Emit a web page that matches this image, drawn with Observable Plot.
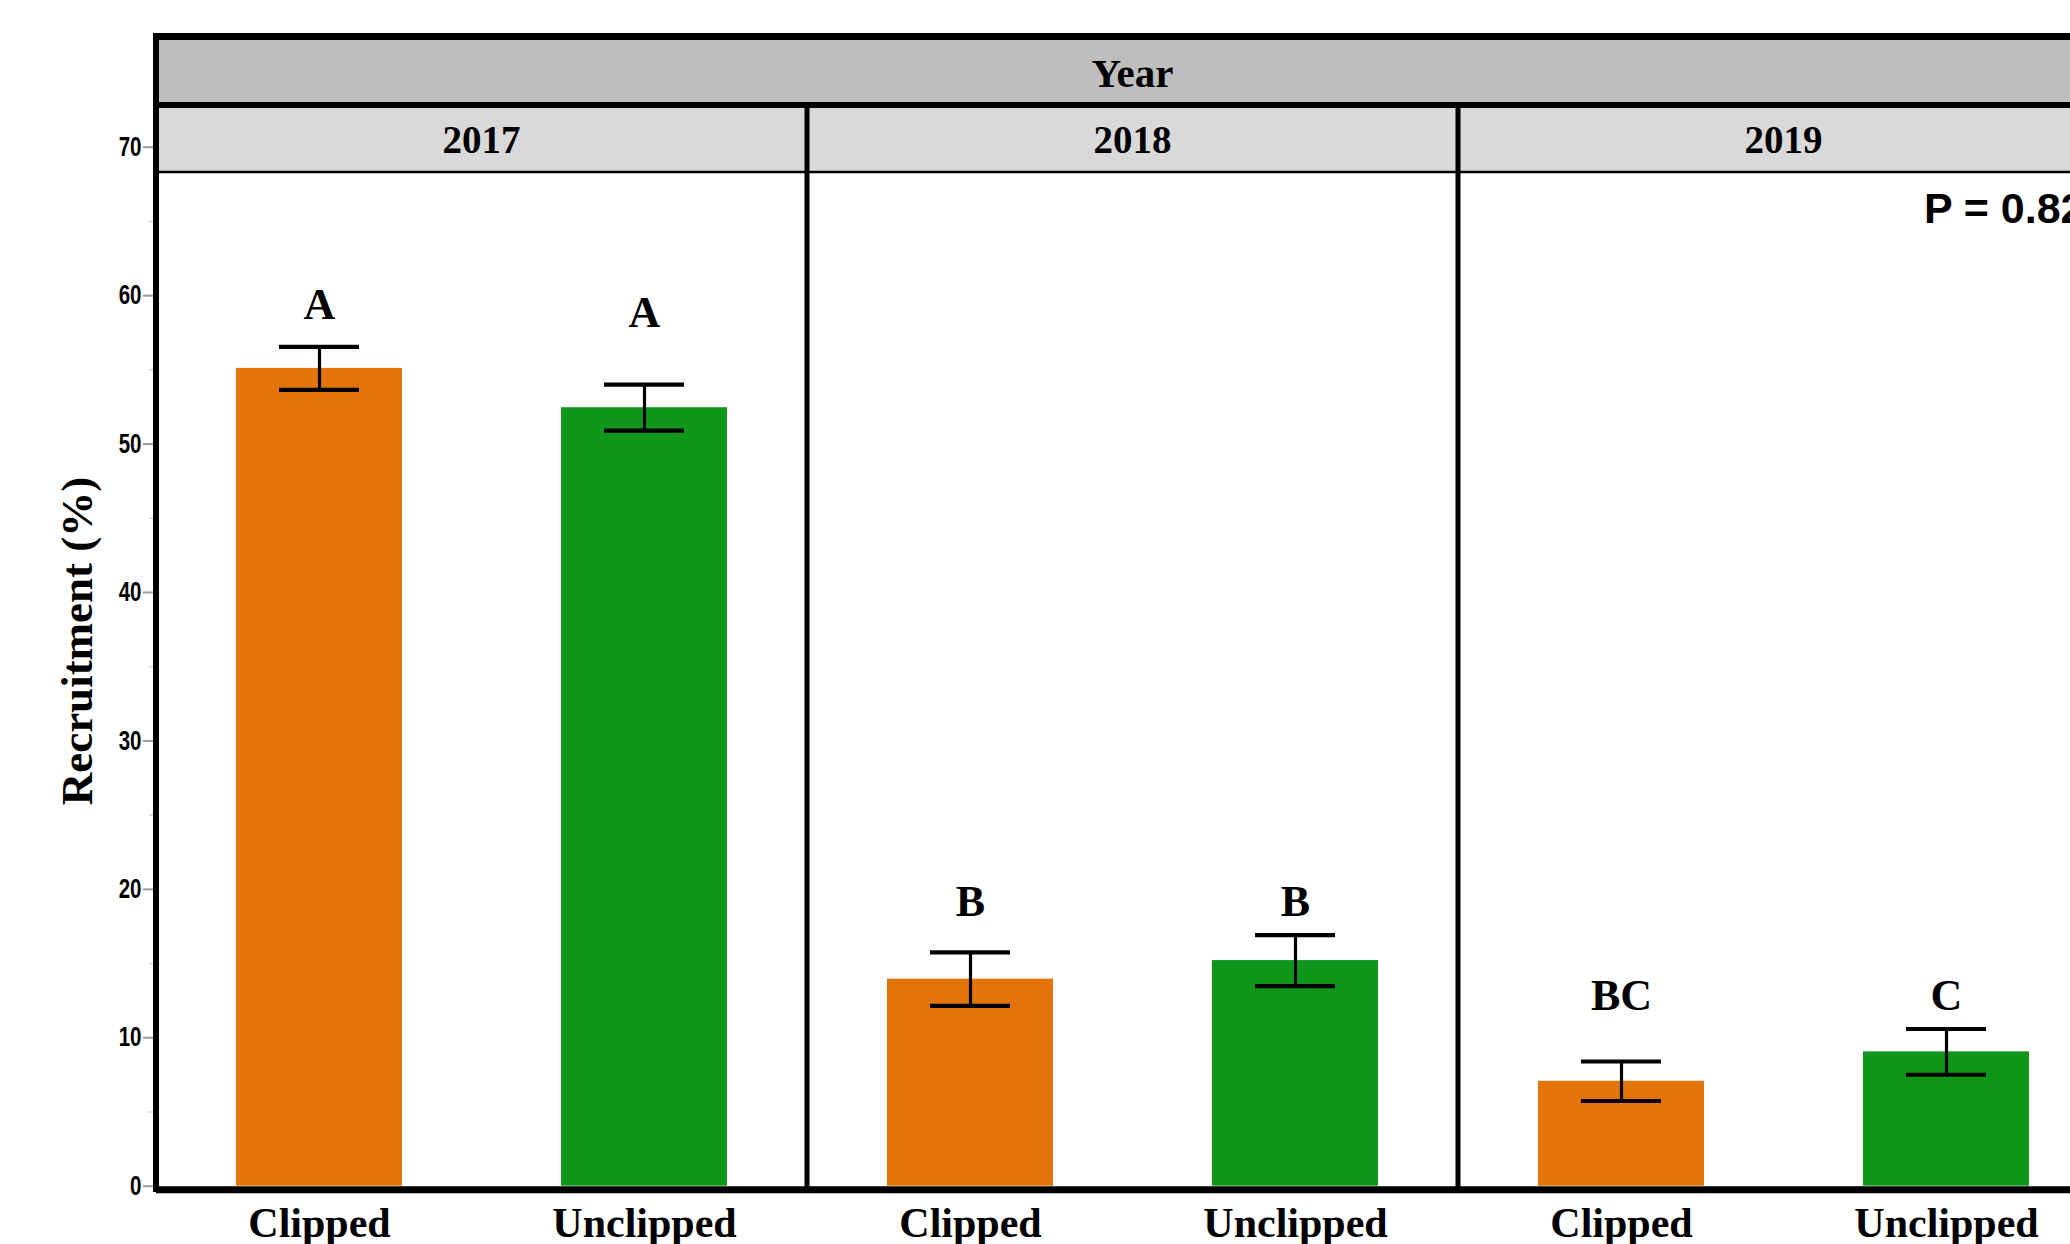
<!DOCTYPE html>
<html>
<head>
<meta charset="utf-8">
<script src="https://cdn.jsdelivr.net/npm/d3@7"></script>
<script src="https://cdn.jsdelivr.net/npm/@observablehq/plot@0.6"></script>
<style>
  html, body { margin: 0; padding: 0; background: #fff; overflow: hidden; }
  #chart { width: 2070px; height: 1244px; overflow: hidden; }
  #chart svg { max-width: none !important; }
</style>
</head>
<body>
<div id="chart"></div>
<script>
// Seedling recruitment (%) by year and clipping treatment, mean ± SE
const years = ["2017", "2018", "2019"];
const treatments = ["Clipped", "Unclipped"];
const meanRecruitment = [55.1, 52.45, 13.95, 15.2, 7.07, 9.05];
const stdError = [1.45, 1.55, 1.8, 1.72, 1.33, 1.54];
const groupLetters = ["A", "A", "B", "B", "BC", "C"];
const letterAt = [58.4, 57.9, 18.2, 18.2, 11.9, 11.9];
const yTicks = [0, 10, 20, 30, 40, 50, 60, 70];
const yMinorTicks = [5, 15, 25, 35, 45, 55, 65];
const pLabel = "P = 0.82";
const treatmentColors = ["#E3740A", "#11961C"];

const rows = [];
years.forEach((year, i) => treatments.forEach((treatment, j) => {
  const k = i * treatments.length + j;
  rows.push({
    year, treatment,
    mean: meanRecruitment[k],
    lo: meanRecruitment[k] - stdError[k],
    hi: meanRecruitment[k] + stdError[k],
    letter: groupLetters[k],
    letterAt: letterAt[k]
  });
}));

const serif = "'Liberation Serif', 'Times New Roman', Times, serif";
const sans = "'Liberation Sans', Arial, Helvetica, sans-serif";

const plot = Plot.plot({
  width: 2130,
  height: 1270,
  marginLeft: 156,
  marginRight: 21,
  marginTop: 173,
  marginBottom: 84.3,
  style: { background: "white", overflow: "visible", maxWidth: "none" },
  fx: { domain: years, padding: 0, axis: null, label: null },
  x: { domain: treatments, paddingInner: 0.488, paddingOuter: 0.244, label: null },
  y: { domain: [0, 68.23], label: null },
  color: { domain: treatments, range: treatmentColors },
  marks: [
    Plot.barY(rows, { fx: "year", x: "treatment", y: "mean", fill: "treatment" }),
    Plot.ruleX(rows, { fx: "year", x: "treatment", y1: "lo", y2: "hi", stroke: "black", strokeWidth: 3.2 }),
    Plot.tickY(rows, { fx: "year", x: "treatment", y: "hi", stroke: "black", strokeWidth: 4.2, insetLeft: 43, insetRight: 43 }),
    Plot.tickY(rows, { fx: "year", x: "treatment", y: "lo", stroke: "black", strokeWidth: 4.2, insetLeft: 43, insetRight: 43 }),
    Plot.text(rows, {
      fx: "year", x: "treatment", y: "letterAt", text: "letter",
      lineAnchor: "bottom", fontSize: 44, fontWeight: "bold", fontFamily: serif, fill: "black"
    }),
    Plot.text([{ year: years[2], label: pLabel }], {
      fx: "year", text: "label", frameAnchor: "top-right", textAnchor: "end",
      lineAnchor: "bottom", dy: 49, dx: -25, fontSize: 43, fontWeight: "bold", fontFamily: sans, fill: "black"
    }),
    Plot.ruleY([0], { stroke: "black", strokeWidth: 7, dy: 3.5 }),
    Plot.axisY(yMinorTicks, {
      anchor: "left", facetAnchor: "left", tickSize: 7, tickFormat: () => "",
      stroke: "#d4d4d4", strokeWidth: 1.5, label: null
    }),
    Plot.axisY(yTicks, {
      anchor: "left", facetAnchor: "left", tickSize: 13, tickPadding: 2,
      stroke: "#9a9a9a", strokeWidth: 2, fill: "black",
      fontSize: 27, fontWeight: "bold", fontFamily: sans, label: null
    }),
    Plot.axisX({
      anchor: "bottom", tickSize: 0, tickPadding: 21,
      fontSize: 42, fontWeight: "bold", fontFamily: serif, fill: "black", label: null
    })
  ]
});

// Strip headers, panel dividers and the y-axis title, placed from the facet scale
const svg = d3.select(plot);
svg.style("max-width", "none");

// narrow the y tick numerals (condensed bold face)
svg.selectAll('g[aria-label="y-axis tick label"] text').each(function () {
  const t = d3.select(this);
  const tr = t.attr("transform") || "";
  t.attr("transform", tr + " scale(0.76,1)");
});

const fx = plot.scale("fx");
const left = fx.apply(years[0]);
const right = fx.apply(years[years.length - 1]) + fx.bandwidth;
const bottom = 1192;
const chrome = svg.append("g");

chrome.append("rect")
  .attr("x", left).attr("y", 40).attr("width", right - left).attr("height", 62)
  .attr("fill", "#bebebe");
chrome.append("text")
  .attr("x", (left + right) / 2).attr("y", 87)
  .attr("text-anchor", "middle")
  .attr("font-family", serif).attr("font-weight", "bold").attr("font-size", 41)
  .attr("fill", "black")
  .text("Year");

years.forEach(year => {
  const x0 = fx.apply(year);
  chrome.append("rect")
    .attr("x", x0).attr("y", 108).attr("width", fx.bandwidth).attr("height", 63)
    .attr("fill", "#d9d9d9");
  chrome.append("text")
    .attr("x", x0 + fx.bandwidth / 2).attr("y", 153)
    .attr("text-anchor", "middle")
    .attr("font-family", serif).attr("font-weight", "bold").attr("font-size", 39)
    .attr("fill", "black")
    .text(year);
});

// horizontal rules: outer top, between header rows, under the year strips
chrome.append("line").attr("x1", left - 3).attr("x2", right + 3).attr("y1", 36.5).attr("y2", 36.5)
  .attr("stroke", "black").attr("stroke-width", 7);
chrome.append("line").attr("x1", left).attr("x2", right).attr("y1", 105).attr("y2", 105)
  .attr("stroke", "black").attr("stroke-width", 6);
chrome.append("line").attr("x1", left).attr("x2", right).attr("y1", 172).attr("y2", 172)
  .attr("stroke", "black").attr("stroke-width", 2.5);

// vertical rules: outer sides and the dividers between years
chrome.append("line").attr("x1", left).attr("x2", left).attr("y1", 33).attr("y2", bottom)
  .attr("stroke", "black").attr("stroke-width", 6);
chrome.append("line").attr("x1", right).attr("x2", right).attr("y1", 33).attr("y2", bottom)
  .attr("stroke", "black").attr("stroke-width", 6);
years.slice(1).forEach(year => {
  const x = fx.apply(year);
  chrome.append("line").attr("x1", x).attr("x2", x).attr("y1", 102).attr("y2", bottom)
    .attr("stroke", "black").attr("stroke-width", 5);
});

// y-axis title
chrome.append("text")
  .attr("transform", "translate(92,641) rotate(-90)")
  .attr("text-anchor", "middle")
  .attr("font-family", serif).attr("font-weight", "bold").attr("font-size", 45)
  .attr("fill", "black")
  .text("Recruitment (%)");

document.getElementById("chart").appendChild(plot);
</script>
</body>
</html>
